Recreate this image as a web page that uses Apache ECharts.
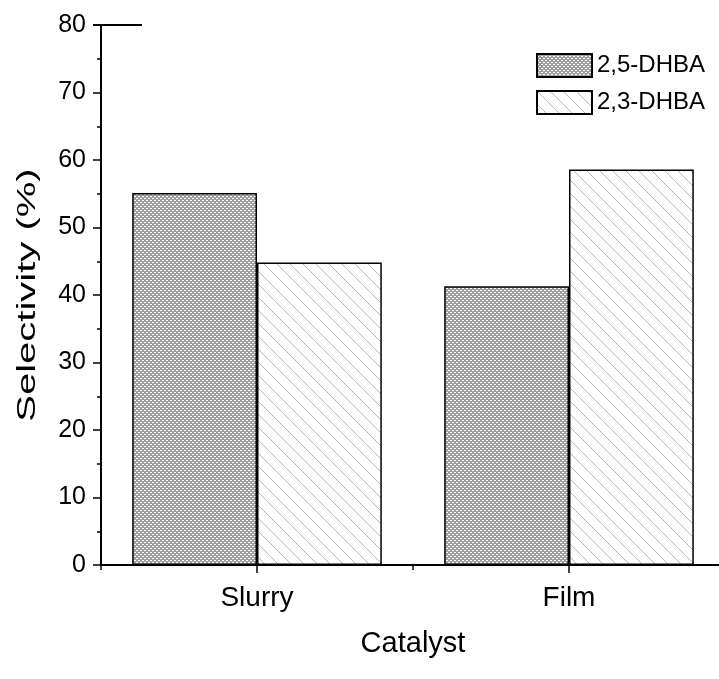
<!DOCTYPE html>
<html>
<head>
<meta charset="utf-8">
<script src="https://cdn.jsdelivr.net/npm/echarts@6/dist/echarts.min.js"></script>
<style>
html,body{margin:0;padding:0;background:#fff;overflow:hidden;width:719px;height:679px;}
#chart{width:725px;height:679px;}
</style>
</head>
<body>
<div id="chart"></div>
<script>
// ---- data ----
const categories = ['Slurry', 'Film'];
const seriesNames = ['2,5-DHBA', '2,3-DHBA'];
const dhba25 = [55.1, 41.3];
const dhba23 = [44.8, 58.6];
const yMin = 0, yMax = 80, yStep = 10;
const xAxisName = 'Catalyst';
const yAxisName = 'Selectivity (%)';

// ---- font detection ----
function hasFont(name) {
  const c = document.createElement('canvas').getContext('2d');
  const s = 'Slurry Catalyst 2,5-DHBA';
  c.font = '40px monospace';
  const a = c.measureText(s).width;
  c.font = '40px "' + name + '", monospace';
  const b = c.measureText(s).width;
  return Math.abs(a - b) > 0.5;
}
const BASE = '"Liberation Sans", Arial, sans-serif';
const narrowOK = hasFont('Liberation Sans Narrow');
const NARROW = narrowOK ? '"Liberation Sans Narrow", ' + BASE : BASE;
const catSize = narrowOK ? 32 : 28;
const xNameSize = narrowOK ? 34 : 29;

// ---- hatch patterns ----
function makeTile(size, fn, gray) {
  const cv = document.createElement('canvas');
  cv.width = size; cv.height = size;
  const ctx = cv.getContext('2d');
  const img = ctx.createImageData(size, size);
  for (let y = 0; y < size; y++) {
    for (let x = 0; x < size; x++) {
      const i = (y * size + x) * 4;
      const v = fn(x, y) ? gray : 255;
      img.data[i] = v; img.data[i + 1] = v; img.data[i + 2] = v; img.data[i + 3] = 255;
    }
  }
  ctx.putImageData(img, 0, 0);
  return cv;
}
const crossTile = makeTile(4, (x, y) => !(((x + y) % 4 >= 2) && ((((x - y) % 4) + 4) % 4 >= 2)), 160);
const diagTile = makeTile(13, (x, y) => x === y, 185);

const chart = echarts.init(document.getElementById('chart'), null, { renderer: 'canvas' });

const option = {
  animation: false,
  backgroundColor: '#fff',
  grid: { left: 101, top: 25, right: 0, height: 540, containLabel: false },
  legend: {
    orient: 'vertical',
    left: 536,
    top: 53,
    padding: 0,
    icon: 'rect',
    itemWidth: 55,
    itemHeight: 23,
    itemGap: 12,
    selectedMode: false,
    textStyle: { fontSize: 24, color: '#000', fontFamily: BASE },
    data: seriesNames
  },
  xAxis: [
    {
      type: 'category',
      data: categories,
      position: 'bottom',
      axisLine: { show: true, lineStyle: { color: '#000', width: 2 } },
      axisTick: { show: true, length: 5, lineStyle: { color: '#000', width: 1.5 } },
      axisLabel: { show: false },
      splitLine: { show: false }
    },
    {
      type: 'category',
      data: categories,
      position: 'bottom',
      axisLine: { show: false },
      axisTick: { show: true, alignWithLabel: true, length: 8, lineStyle: { color: '#000', width: 1.5 } },
      axisLabel: { show: true, margin: 19, fontSize: catSize, color: '#000', fontFamily: NARROW },
      splitLine: { show: false },
      name: xAxisName,
      nameLocation: 'middle',
      nameGap: 64,
      nameTextStyle: { fontSize: xNameSize, color: '#000', fontFamily: NARROW }
    }
  ],
  yAxis: {
    type: 'value',
    min: yMin, max: yMax, interval: yStep,
    axisLine: { show: true, lineStyle: { color: '#000', width: 2 } },
    axisTick: { show: true, length: 8, lineStyle: { color: '#000', width: 1.5 } },
    minorTick: { show: true, splitNumber: 2, length: 4, lineStyle: { color: '#000', width: 1.5 } },
    splitLine: { show: false },
    minorSplitLine: { show: false },
    axisLabel: { margin: 15, fontSize: 25, color: '#000', fontFamily: BASE }
  },
  series: [
    {
      name: seriesNames[0],
      type: 'bar',
      xAxisIndex: 0,
      data: dhba25,
      barGap: '0%',
      barCategoryGap: '20%',
      itemStyle: { color: { image: crossTile, repeat: 'repeat' }, borderColor: '#000', borderWidth: 1.5 },
      emphasis: { disabled: true }
    },
    {
      name: seriesNames[1],
      type: 'bar',
      xAxisIndex: 0,
      data: dhba23,
      barGap: '0%',
      barCategoryGap: '20%',
      itemStyle: { color: { image: diagTile, repeat: 'repeat' }, borderColor: '#000', borderWidth: 1.5 },
      emphasis: { disabled: true }
    }
  ]
};
chart.setOption(option);

// decorations placed from the axis scale
const yTop = chart.convertToPixel({ yAxisIndex: 0 }, yMax);
const yBot = chart.convertToPixel({ yAxisIndex: 0 }, yMin);
chart.setOption({
  graphic: [
    {
      type: 'line',
      shape: { x1: 93, y1: yTop, x2: 142, y2: yTop },
      style: { stroke: '#000', lineWidth: 2 }
    },
    {
      type: 'text',
      x: 28,
      y: (yTop + yBot) / 2,
      rotation: Math.PI / 2,
      scaleX: 1.6,
      style: {
        text: yAxisName,
        font: '25px ' + BASE,
        fill: '#000',
        align: 'center',
        verticalAlign: 'middle'
      }
    }
  ]
});
</script>
</body>
</html>
